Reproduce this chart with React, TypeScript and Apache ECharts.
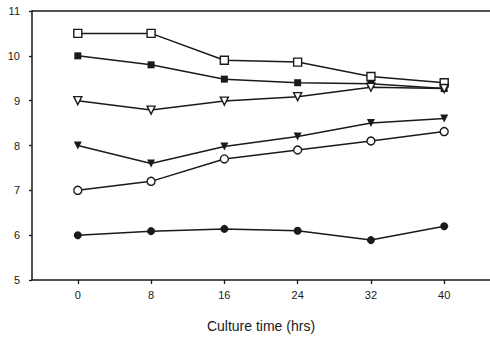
import React, { useEffect, useRef } from "react";
import * as echarts from "echarts";

const hours = [0, 8, 16, 24, 32, 40];
const openSquare = [10.5, 10.5, 9.9, 9.86, 9.54, 9.4];
const filledSquare = [10.0, 9.8, 9.48, 9.4, 9.38, 9.27];
const openTriangle = [9.0, 8.79, 8.99, 9.09, 9.3, 9.27];
const filledTriangle = [8.0, 7.6, 7.98, 8.2, 8.5, 8.6];
const openCircle = [7.0, 7.2, 7.7, 7.9, 8.1, 8.31];
const filledCircle = [6.0, 6.09, 6.14, 6.1, 5.89, 6.2];
const xTicks = [0, 8, 16, 24, 32, 40];
const xTitle = "Culture time (hrs)";

const INK = "#1a1a1a";
const FONT = "Liberation Sans, Arial, sans-serif";

export default function App() {
  const ref = useRef<HTMLDivElement>(null);
  useEffect(() => {
    if (!ref.current) return;
    const chart = echarts.init(ref.current, null, { renderer: "svg" });
    const mk = (
      name: string,
      vals: number[],
      symbol: string,
      filled: boolean,
      size: number,
      rotate = 0
    ) => ({
      name,
      type: "line",
      data: hours.map((h, i) => [h, vals[i]]),
      symbol,
      symbolSize: size,
      symbolRotate: rotate,
      showAllSymbol: true,
      lineStyle: { color: INK, width: 1.5 },
      itemStyle: {
        color: filled ? INK : "#ffffff",
        borderColor: INK,
        borderWidth: filled ? 0 : 1.4,
      },
      z: 3,
    });
    chart.setOption({
      animation: false,
      backgroundColor: "#ffffff",
      grid: { left: 32, right: 0, top: 11, bottom: 53 },
      xAxis: [
        {
          type: "value",
          min: -5,
          max: 45,
          name: xTitle,
          nameLocation: "middle",
          nameGap: 39,
          nameTextStyle: { color: INK, fontSize: 14, fontFamily: FONT },
          axisLine: { show: true, onZero: false, lineStyle: { color: INK, width: 1.5 } },
          axisTick: { show: true, length: 4, customValues: xTicks, lineStyle: { color: INK, width: 1.3 } },
          axisLabel: {
            customValues: xTicks,
            color: INK,
            fontSize: 11,
            margin: 9,
            fontFamily: FONT,
          },
          splitLine: { show: false },
        },
        {
          type: "value",
          position: "top",
          min: -5,
          max: 45,
          axisLine: { show: true, onZero: false, lineStyle: { color: INK, width: 1.5 } },
          axisTick: { show: false },
          axisLabel: { show: false },
          splitLine: { show: false },
        },
      ],
      yAxis: {
        type: "value",
        min: 5,
        max: 11,
        interval: 1,
        axisLine: { show: true, onZero: false, lineStyle: { color: INK, width: 1.5 } },
        axisTick: { show: true, length: 3, lineStyle: { color: INK, width: 1.3 } },
        axisLabel: { color: INK, fontSize: 11, margin: 12, fontFamily: FONT },
        splitLine: { show: false },
      },
      series: [
        mk("open square", openSquare, "rect", false, 8),
        mk("filled square", filledSquare, "rect", true, 7),
        mk("open triangle", openTriangle, "triangle", false, 8, 180),
        mk("filled triangle", filledTriangle, "triangle", true, 8, 180),
        mk("open circle", openCircle, "circle", false, 8),
        mk("filled circle", filledCircle, "circle", true, 8),
      ],
    });
    return () => chart.dispose();
  }, []);
  return (
    <div
      ref={ref}
      style={{ position: "fixed", left: 0, top: 0, width: 490, height: 338 }}
    />
  );
}
